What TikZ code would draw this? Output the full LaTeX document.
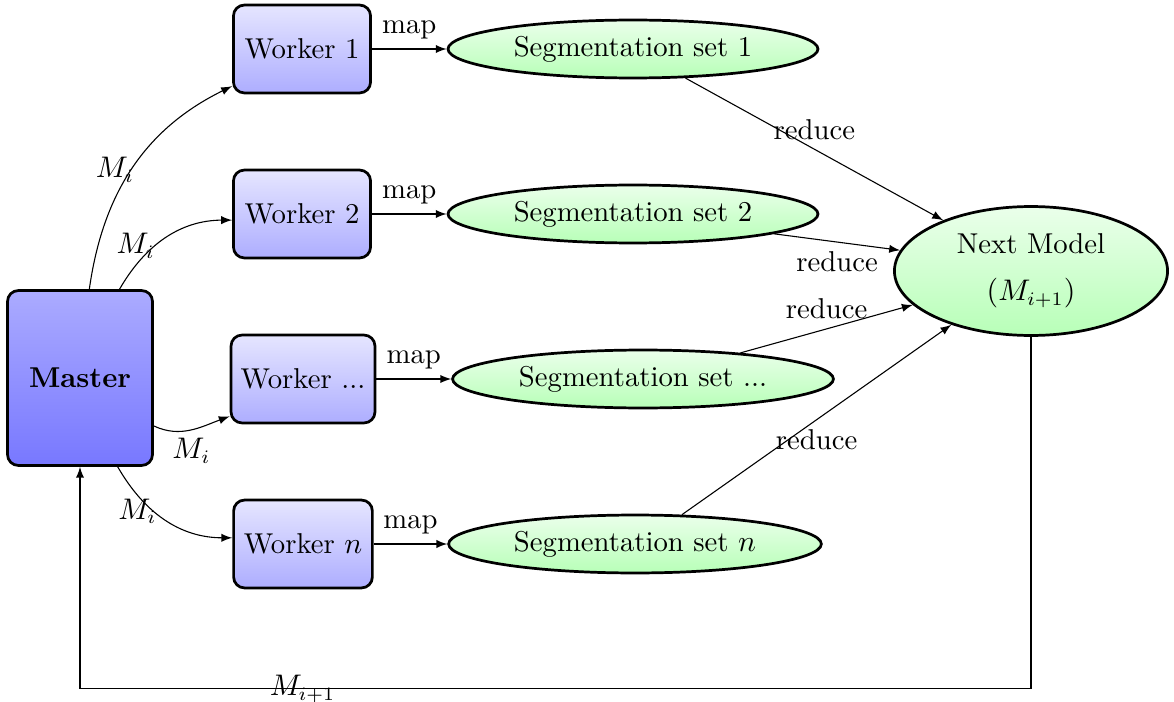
\documentclass[tikz,border=0pt]{standalone}
\usetikzlibrary{shapes.geometric,arrows}
\begin{document}
\begin{tikzpicture}[x=0.3676pt,y=-0.3676pt,
  font=\fontsize{10.55pt}{12.7pt}\selectfont,
  masterbox/.style={draw,rounded corners=4pt,line width=1pt,top color=blue!33,bottom color=blue!53,minimum width=53.3pt,minimum height=64.3pt,inner sep=0pt},
  workerbox/.style={draw,rounded corners=4pt,line width=1pt,top color=blue!10,bottom color=blue!32,minimum width=50.4pt,minimum height=32.3pt,inner sep=0pt},
  segell/.style={draw,ellipse,line width=1pt,top color=green!8,bottom color=green!28,minimum width=136pt,minimum height=21.3pt,inner sep=0pt},
  conn/.style={-latex,thin}]
\useasboundingbox (0,0) rectangle (1174,702);
\node[masterbox] (master) at (80,378) {\textbf{Master}};
\node[workerbox] (w1) at (302,49) {Worker 1};
\node[workerbox] (w2) at (302,214) {Worker 2};
\node[workerbox,minimum width=52.9pt] (w3) at (303,379) {Worker ...};
\node[workerbox,minimum width=51pt] (w4) at (303,544) {Worker $n$};
\node[segell] (s1) at (633,49) {Segmentation set 1};
\node[segell] (s2) at (633,214) {Segmentation set 2};
\node[segell,minimum width=140pt] (s3) at (643,379) {Segmentation set ...};
\node[segell,minimum width=137pt] (s4) at (635,544) {Segmentation set $n$};
\node[segell,minimum width=100.4pt,minimum height=47.4pt,align=center] (next) at (1031,271) {Next Model\\[4.5pt]$(M_{i+1})$};
% master to workers
\draw[conn] (master.84.7) to[out=82,in=206] node[pos=0.49,left,inner sep=-1pt] {$M_i$} (w1.208);
\draw[conn] (master.66.4) to[out=60,in=180] node[pos=0.33,above left,inner sep=-2.5pt] {$M_i$} (w2.185);
\draw[conn] (master.-33) to[out=-25,in=200] node[pos=0.5,below,inner sep=3pt] {$M_i$} (w3.207.5);
\draw[conn] (master.-67.2) to[out=-60,in=180] node[pos=0.4,left,inner sep=-1pt] {$M_i$} (w4.175);
% map
\foreach \w/\s in {w1/s1,w2/s2,w3/s3,w4/s4}
  \draw[conn] (\w) -- node[above] {map} (\s);
% reduce
\draw[conn] (s1.-29) -- node[above] {reduce} (next.150);
\draw[conn] (s2.-8.9) -- node[below] {reduce} (next.171);
\draw[conn] (s3.15.3) -- node[above] {reduce} (next.196.6);
\draw[conn] (s4.32) -- node[below] {reduce} (next.214);
% feedback
\draw[conn] (next.south) -- ++(0,352) -| node[pos=0.383] {$M_{i+1}$} (master.south);
\end{tikzpicture}
\end{document}
